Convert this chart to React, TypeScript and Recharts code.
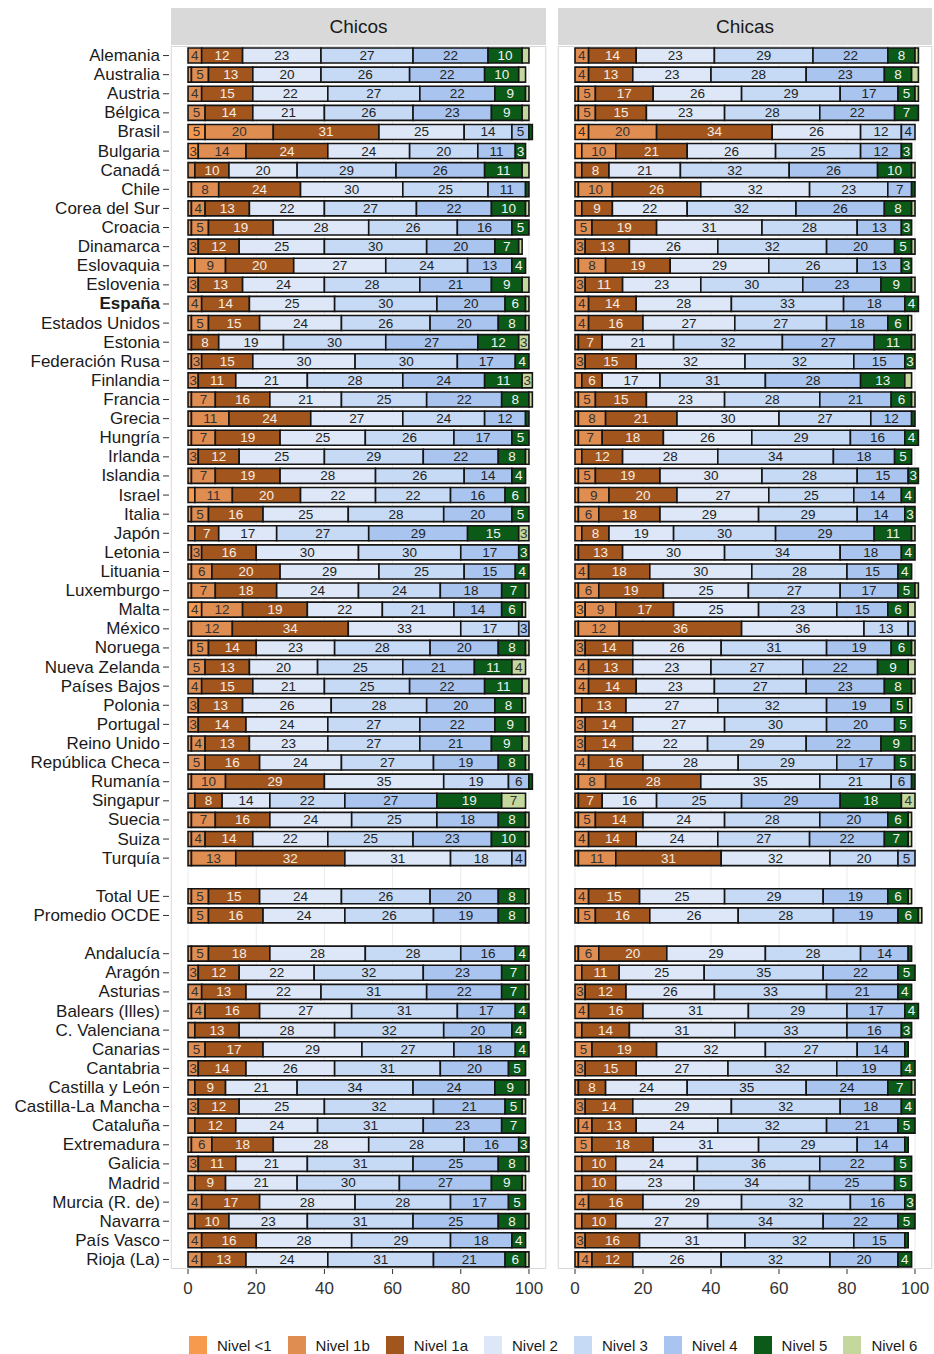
import { BarChart, Bar, XAxis, YAxis, CartesianGrid, LabelList } from 'recharts';

// filas del gráfico ('' y ' ' son huecos entre bloques)
const categories = [
  'Alemania', 'Australia', 'Austria', 'Bélgica', 'Brasil', 'Bulgaria', 'Canadá', 'Chile',
  'Corea del Sur', 'Croacia', 'Dinamarca', 'Eslovaquia', 'Eslovenia', 'España', 'Estados Unidos',
  'Estonia', 'Federación Rusa', 'Finlandia', 'Francia', 'Grecia', 'Hungría', 'Irlanda', 'Islandia',
  'Israel', 'Italia', 'Japón', 'Letonia', 'Lituania', 'Luxemburgo', 'Malta', 'México', 'Noruega',
  'Nueva Zelanda', 'Países Bajos', 'Polonia', 'Portugal', 'Reino Unido', 'República Checa',
  'Rumanía', 'Singapur', 'Suecia', 'Suiza', 'Turquía',
  '',
  'Total UE', 'Promedio OCDE',
  ' ',
  'Andalucía', 'Aragón', 'Asturias', 'Balears (Illes)', 'C. Valenciana', 'Canarias', 'Cantabria',
  'Castilla y León', 'Castilla-La Mancha', 'Cataluña', 'Extremadura', 'Galicia', 'Madrid',
  'Murcia (R. de)', 'Navarra', 'País Vasco', 'Rioja (La)',
];

const levels = ['Nivel <1', 'Nivel 1b', 'Nivel 1a', 'Nivel 2', 'Nivel 3', 'Nivel 4', 'Nivel 5', 'Nivel 6'];

// % por nivel: <1, 1b, 1a, 2, 3, 4, 5, 6
const chicos: (number[] | null)[] = [
  [0, 4, 12, 23, 27, 22, 10, 2],
  [1, 5, 13, 20, 26, 22, 10, 2],
  [0, 4, 15, 22, 27, 22, 9, 1],
  [0, 5, 14, 21, 26, 23, 9, 2],
  [5, 20, 31, 25, 14, 5, 1, 0],
  [3, 14, 24, 24, 20, 11, 3, 0],
  [0, 2, 10, 20, 29, 26, 11, 2],
  [1, 8, 24, 30, 25, 11, 1, 0],
  [1, 4, 13, 22, 27, 22, 10, 1],
  [1, 5, 19, 28, 26, 16, 5, 0],
  [0, 3, 12, 25, 30, 20, 7, 1],
  [2, 9, 20, 27, 24, 13, 4, 0],
  [0, 3, 13, 24, 28, 21, 9, 2],
  [0, 4, 14, 25, 30, 20, 6, 1],
  [1, 5, 15, 24, 26, 20, 8, 1],
  [0, 1, 8, 19, 30, 27, 12, 3],
  [1, 3, 15, 30, 30, 17, 4, 0],
  [0, 3, 11, 21, 28, 24, 11, 3],
  [1, 7, 16, 21, 25, 22, 8, 1],
  [1, 11, 24, 27, 24, 12, 1, 0],
  [1, 7, 19, 25, 26, 17, 5, 0],
  [0, 3, 12, 25, 29, 22, 8, 1],
  [1, 7, 19, 28, 26, 14, 4, 0],
  [2, 11, 20, 22, 22, 16, 6, 1],
  [1, 5, 16, 25, 28, 20, 5, 0],
  [0, 2, 7, 17, 27, 29, 15, 3],
  [1, 3, 16, 30, 30, 17, 3, 0],
  [1, 6, 20, 29, 25, 15, 4, 0],
  [1, 7, 18, 24, 24, 18, 7, 1],
  [4, 12, 19, 22, 21, 14, 6, 1],
  [1, 12, 34, 33, 17, 3, 0, 0],
  [1, 5, 14, 23, 28, 20, 8, 1],
  [0, 5, 13, 20, 25, 21, 11, 4],
  [0, 4, 15, 21, 25, 22, 11, 2],
  [0, 3, 13, 26, 28, 20, 8, 1],
  [0, 3, 14, 24, 27, 22, 9, 1],
  [1, 4, 13, 23, 27, 21, 9, 2],
  [0, 5, 16, 24, 27, 19, 8, 1],
  [1, 10, 29, 35, 19, 6, 1, 0],
  [0, 2, 8, 14, 22, 27, 19, 7],
  [1, 7, 16, 24, 25, 18, 8, 1],
  [1, 4, 14, 22, 25, 23, 10, 1],
  [1, 13, 32, 31, 18, 4, 0, 0],
  null,
  [1, 5, 15, 24, 26, 20, 8, 1],
  [1, 5, 16, 24, 26, 19, 8, 1],
  null,
  [1, 5, 18, 28, 28, 16, 4, 0],
  [0, 3, 12, 22, 32, 23, 7, 1],
  [0, 4, 13, 22, 31, 22, 7, 1],
  [1, 4, 16, 27, 31, 17, 4, 0],
  [0, 2, 13, 28, 32, 20, 4, 0],
  [0, 5, 17, 29, 27, 18, 4, 0],
  [0, 3, 14, 26, 31, 20, 5, 0],
  [0, 2, 9, 21, 34, 24, 9, 1],
  [0, 3, 12, 25, 32, 21, 5, 1],
  [0, 2, 12, 24, 31, 23, 7, 0],
  [1, 6, 18, 28, 28, 16, 3, 0],
  [0, 3, 11, 21, 31, 25, 8, 1],
  [0, 2, 9, 21, 30, 27, 9, 1],
  [0, 4, 17, 28, 28, 17, 5, 0],
  [0, 2, 10, 23, 31, 25, 8, 1],
  [0, 4, 16, 28, 29, 18, 4, 0],
  [0, 4, 13, 24, 31, 21, 6, 1],
];

const chicas: (number[] | null)[] = [
  [0, 4, 14, 23, 29, 22, 8, 1],
  [0, 4, 13, 23, 28, 23, 8, 2],
  [1, 5, 17, 26, 29, 17, 5, 1],
  [1, 5, 15, 23, 28, 22, 7, 0],
  [4, 20, 34, 26, 12, 4, 0, 0],
  [2, 10, 21, 26, 25, 12, 3, 0],
  [0, 2, 8, 21, 32, 26, 10, 1],
  [1, 10, 26, 32, 23, 7, 1, 0],
  [0, 2, 9, 22, 32, 26, 8, 1],
  [0, 5, 19, 31, 28, 13, 3, 0],
  [0, 3, 13, 26, 32, 20, 5, 1],
  [1, 8, 19, 29, 26, 13, 3, 0],
  [0, 3, 11, 23, 30, 23, 9, 1],
  [0, 4, 14, 28, 33, 18, 4, 0],
  [0, 4, 16, 27, 27, 18, 6, 1],
  [0, 1, 7, 21, 32, 27, 11, 1],
  [0, 3, 15, 32, 32, 15, 3, 0],
  [0, 2, 6, 17, 31, 28, 13, 2],
  [1, 5, 15, 23, 28, 21, 6, 1],
  [1, 8, 21, 30, 27, 12, 1, 0],
  [1, 7, 18, 26, 29, 16, 4, 0],
  [0, 2, 12, 28, 34, 18, 5, 0],
  [1, 5, 19, 30, 28, 15, 3, 0],
  [1, 9, 20, 27, 25, 14, 4, 0],
  [1, 6, 18, 29, 29, 14, 3, 0],
  [0, 2, 8, 19, 30, 29, 11, 1],
  [0, 1, 13, 30, 34, 18, 4, 0],
  [0, 4, 18, 30, 28, 15, 4, 0],
  [1, 6, 19, 25, 27, 17, 5, 1],
  [3, 9, 17, 25, 23, 15, 6, 2],
  [1, 12, 36, 36, 13, 2, 0, 0],
  [0, 3, 14, 26, 31, 19, 6, 1],
  [0, 4, 13, 23, 27, 22, 9, 2],
  [0, 4, 14, 23, 27, 23, 8, 1],
  [0, 2, 13, 27, 32, 19, 5, 1],
  [0, 3, 14, 27, 30, 20, 5, 0],
  [0, 3, 14, 22, 29, 22, 9, 1],
  [0, 4, 16, 28, 29, 17, 5, 1],
  [1, 8, 28, 35, 21, 6, 1, 0],
  [0, 1, 7, 16, 25, 29, 18, 4],
  [1, 5, 14, 24, 28, 20, 6, 1],
  [0, 4, 14, 24, 27, 22, 7, 1],
  [1, 11, 31, 32, 20, 5, 0, 0],
  null,
  [0, 4, 15, 25, 29, 19, 6, 1],
  [1, 5, 16, 26, 28, 19, 6, 1],
  null,
  [1, 6, 20, 29, 28, 14, 1, 0],
  [0, 2, 11, 25, 35, 22, 5, 0],
  [0, 3, 12, 26, 33, 21, 4, 0],
  [0, 4, 16, 31, 29, 17, 4, 0],
  [0, 2, 14, 31, 33, 16, 3, 0],
  [0, 5, 19, 32, 27, 14, 1, 0],
  [0, 3, 15, 27, 32, 19, 4, 0],
  [0, 1, 8, 24, 35, 24, 7, 1],
  [0, 3, 14, 29, 32, 18, 4, 0],
  [1, 4, 13, 24, 32, 21, 5, 0],
  [0, 5, 18, 31, 29, 14, 1, 0],
  [0, 2, 10, 24, 36, 22, 5, 0],
  [0, 2, 10, 23, 34, 25, 5, 0],
  [0, 4, 16, 29, 32, 16, 3, 0],
  [0, 2, 10, 27, 34, 22, 5, 0],
  [0, 3, 16, 31, 32, 15, 1, 0],
  [1, 4, 12, 26, 32, 20, 4, 0],
];

const xTicks = [0, 20, 40, 60, 80, 100];

const colors = ['#F79A4E', '#E08D52', '#A2551D', '#DDE7F8', '#C6D9F5', '#A8C4EF', '#0B5A18', '#C4D89E'];
const textColors = ['#333', '#333', '#F6EDE4', '#222', '#222', '#222', '#F2F2F2', '#333'];

const FONT = '"Liberation Sans", Arial, sans-serif';

const buildData = (rows: (number[] | null)[]) =>
  categories.map((name, i) => {
    const d: Record<string, any> = { name };
    levels.forEach((_, j) => {
      d['l' + j] = rows[i] ? rows[i]![j] : null;
    });
    return d;
  });

const makeLabel = (fill: string) => (props: any) => {
  const { x, y, width, height, value } = props;
  const v = Number(value);
  if (value == null || isNaN(v) || v < 3) return null;
  return (
    <text
      x={Number(x) + Number(width) / 2}
      y={Number(y) + Number(height) / 2}
      textAnchor="middle"
      dominantBaseline="central"
      fontSize={13.5}
      fontFamily={FONT}
      fill={fill}
    >
      {v}
    </text>
  );
};

const YTick = (props: any) => {
  const { x, y, payload } = props;
  const name = String(payload.value);
  if (!name.trim()) return null;
  return (
    <g>
      <line x1={x - 8} x2={x - 2} y1={y} y2={y} stroke="#333" strokeWidth={1} />
      <text
        x={x - 11}
        y={y}
        textAnchor="end"
        dominantBaseline="central"
        fontSize={17}
        fontFamily={FONT}
        fontWeight={name === 'España' ? 'bold' : 'normal'}
        fill="#1a1a1a"
      >
        {name}
      </text>
    </g>
  );
};

type PanelProps = {
  title: string;
  rows: (number[] | null)[];
  left: number;
  width: number;
  marginLeft: number;
  showY: boolean;
};

const Panel = ({ title, rows, left, width, marginLeft, showY }: PanelProps) => {
  const plotLeft = left + marginLeft + (showY ? 171 : 0);
  const plotWidth = width - marginLeft - (showY ? 171 : 0) - 2;
  return (
    <>
      {/* cabecera gris */}
      <div
        style={{
          position: 'absolute',
          left: plotLeft,
          top: 8,
          width: plotWidth,
          height: 37,
          background: '#D9D9D9',
          display: 'flex',
          alignItems: 'center',
          justifyContent: 'center',
          fontSize: 19,
          color: '#1a1a1a',
        }}
      >
        {title}
      </div>
      {/* borde del panel */}
      <div
        style={{
          position: 'absolute',
          left: plotLeft,
          top: 46,
          width: plotWidth,
          height: 1223,
          border: '1px solid #D6D6D6',
          boxSizing: 'border-box',
        }}
      />
      <div style={{ position: 'absolute', left, top: 0 }}>
        <BarChart
          width={width}
          height={1300}
          data={buildData(rows)}
          layout="vertical"
          margin={{ top: 46, right: 2, left: marginLeft, bottom: 0 }}
          barSize={15}
        >
          <CartesianGrid horizontal={false} stroke="#EBEBEB" />
          <XAxis
            type="number"
            domain={[-5, 105]}
            ticks={xTicks}
            allowDataOverflow
            axisLine={false}
            tickLine={{ stroke: '#333' }}
            tickSize={5}
            tickMargin={8}
            height={31}
            tick={{ fontSize: 17, fill: '#333', fontFamily: FONT }}
          />
          <YAxis
            type="category"
            dataKey="name"
            hide={!showY}
            width={showY ? 171 : 0}
            interval={0}
            axisLine={false}
            tickLine={false}
            tickSize={0}
            tickMargin={0}
            tick={<YTick />}
          />
          {levels.map((lv, j) => (
            <Bar
              key={lv}
              dataKey={'l' + j}
              name={lv}
              stackId="a"
              fill={colors[j]}
              stroke="#151515"
              strokeWidth={1.6}
              isAnimationActive={false}
            >
              <LabelList dataKey={'l' + j} content={makeLabel(textColors[j])} />
            </Bar>
          ))}
        </BarChart>
      </div>
    </>
  );
};

export default function App() {
  return (
    <div
      style={{
        position: 'absolute',
        left: 0,
        top: 0,
        width: 934,
        height: 1354,
        background: '#fff',
        fontFamily: FONT,
        overflow: 'hidden',
      }}
    >
      <Panel title="Chicos" rows={chicos} left={0} width={548} marginLeft={0} showY />
      <Panel title="Chicas" rows={chicas} left={548} width={386} marginLeft={10} showY={false} />

      {/* leyenda */}
      <div
        style={{
          position: 'absolute',
          left: 189,
          top: 1336,
          display: 'flex',
          alignItems: 'center',
          fontSize: 15,
          color: '#1a1a1a',
        }}
      >
        {levels.map((lv, j) => (
          <div key={lv} style={{ display: 'flex', alignItems: 'center', marginRight: 16 }}>
            <div style={{ width: 18, height: 18, background: colors[j], marginRight: 10 }} />
            <span>{lv}</span>
          </div>
        ))}
      </div>
    </div>
  );
}
